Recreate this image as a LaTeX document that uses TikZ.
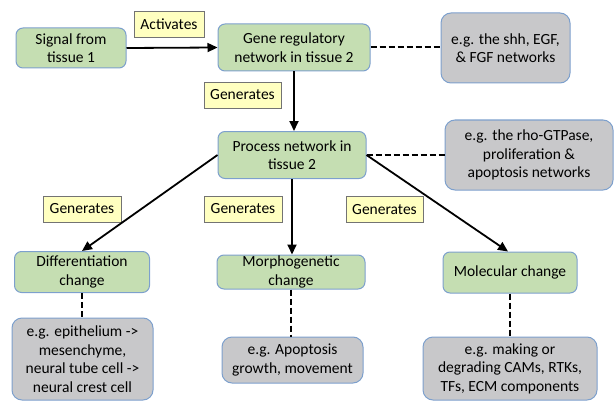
\documentclass[tikz,border=0pt]{standalone}
\usepackage{fontspec}
\setmainfont{Carlito}
\usetikzlibrary{arrows.meta}
\definecolor{gfill}{RGB}{197,222,178}
\definecolor{bdr}{RGB}{125,160,205}
\definecolor{grfill}{RGB}{200,200,202}
\definecolor{yfill}{RGB}{255,255,192}
\begin{document}
\begin{tikzpicture}[x=1pt,y=-1pt,
  base/.style={align=center, inner sep=0pt, font=\fontsize{15.5}{18.5}\selectfont},
  greenbox/.style={base, draw=bdr, fill=gfill, rounded corners=7pt, line width=1pt},
  graybox/.style={base, draw=bdr, fill=grfill, rounded corners=10pt, line width=1pt},
  lbl/.style={base, draw=black!55, fill=yfill, line width=0.8pt, minimum height=26pt},
  arr/.style={-{Triangle[length=10pt,width=9pt]}, line width=1.8pt},
  dsh/.style={dash pattern=on 6pt off 3pt, line width=2pt}]
\useasboundingbox (0,0) rectangle (615,401);
% green boxes
\node[greenbox, minimum width=110pt, minimum height=40pt] (sig) at (71,48) {Signal from\\tissue 1};
\node[greenbox, minimum width=152pt, minimum height=47pt] (gene) at (294,47.5) {Gene regulatory\\network in tissue 2};
\node[greenbox, minimum width=148pt, minimum height=47pt] (proc) at (292,155) {Process network in\\tissue 2};
\node[greenbox, minimum width=135pt, minimum height=41pt] (diff) at (82,272) {Differentiation\\change};
\node[greenbox, minimum width=148pt, minimum height=34pt] (morph) at (291,272) {Morphogenetic\\change};
\node[greenbox, minimum width=134pt, minimum height=41pt] (molec) at (510,272.5) {Molecular change};
% gray boxes
\node[graybox, minimum width=129pt, minimum height=70pt] (eg1) at (505.5,48) {e.g. the shh, EGF,\\\& FGF networks};
\node[graybox, minimum width=168pt, minimum height=70pt] (eg2) at (529,155) {e.g. the rho-GTPase,\\proliferation \&\\apoptosis networks};
\node[graybox, minimum width=141pt, minimum height=82pt] (eg3) at (82.5,359) {e.g. epithelium ->\\mesenchyme,\\neural tube cell ->\\neural crest cell};
\node[graybox, minimum width=141pt, minimum height=46pt] (eg4) at (292.5,360) {e.g. Apoptosis\\growth, movement};
\node[graybox, minimum width=174pt, minimum height=63pt] (eg5) at (510,368.5) {e.g. making or\\degrading CAMs, RTKs,\\TFs, ECM components};
% labels
\node[lbl, minimum width=70pt] (act) at (169,24) {Activates};
\node[lbl, minimum width=77pt] (gen1) at (242.5,95) {Generates};
\node[lbl, minimum width=78pt] (gen2) at (82,209) {Generates};
\node[lbl, minimum width=78pt] (gen3) at (243,209) {Generates};
\node[lbl, minimum width=77pt] (gen4) at (384.5,209.5) {Generates};
% arrows
\draw[arr] (sig.east) -- (gene.west);
\draw[arr] (gene.south) -- (gene.south |- proc.north);
\draw[arr] (proc.west) -- (diff.north);
\draw[arr] (proc.south) -- (proc.south |- morph.north);
\draw[arr] (proc.east) -- ([xshift=-2pt]molec.north);
% dashed
\draw[dsh] (gene.east) -- (gene.east -| eg1.west);
\draw[dsh] (proc.east) -- (proc.east -| eg2.west);
\draw[dsh] (diff.south) -- (diff.south |- eg3.north);
\draw[dsh] (morph.south) -- (morph.south |- eg4.north);
\draw[dsh] (molec.south) -- (molec.south |- eg5.north);
\end{tikzpicture}
\end{document}
